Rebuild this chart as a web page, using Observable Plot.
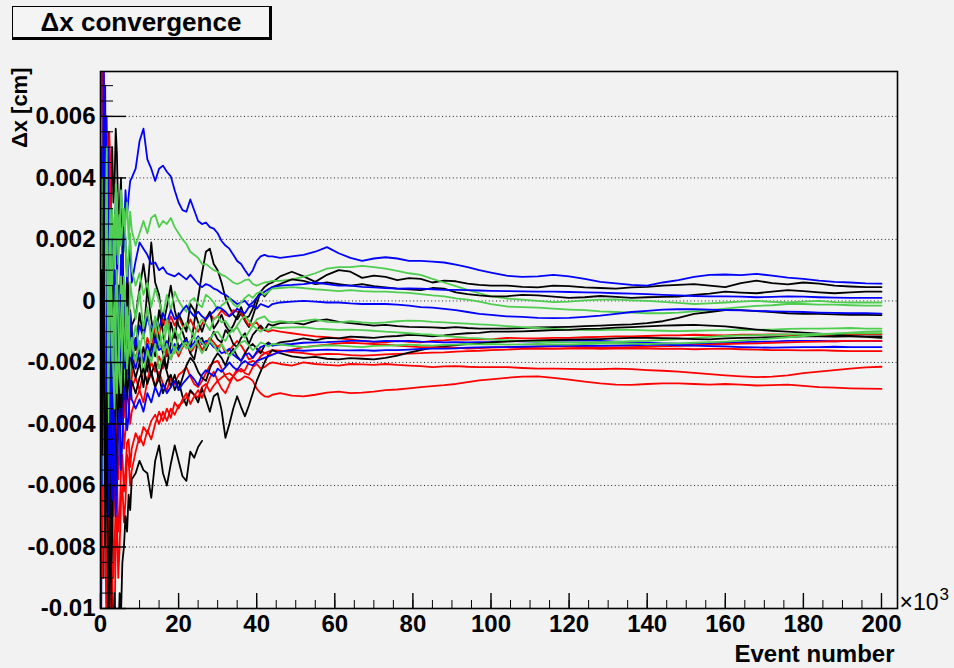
<!DOCTYPE html>
<html>
<head>
<meta charset="utf-8">
<script src="https://cdn.jsdelivr.net/npm/d3@7"></script>
<script src="https://cdn.jsdelivr.net/npm/@observablehq/plot@0.6"></script>
<style>
  html, body { margin: 0; padding: 0; background: #f2f2f2; }
  #wrap { position: relative; width: 954px; height: 668px; overflow: hidden; }
  #title {
    position: absolute; left: 12px; top: 6px; width: 256px; height: 30px;
    border: 1px solid #000; border-right-width: 3px; border-bottom-width: 3px;
    background: #f4f4f4; z-index: 2;
    font: bold 26px "Liberation Sans", Arial, Helvetica, sans-serif;
    line-height: 30px; text-align: center; color: #000;
  }
</style>
</head>
<body>
<div id="wrap"><div id="title">Δx convergence</div></div>
<script>
// Event counts (thousands) at which every running estimate is sampled
const events = [0.2, 0.35, 0.5, 0.65, 0.8, 1.0, 1.2, 1.4, 1.6, 1.8, 2, 2.25, 2.5, 2.75, 3,
  3.3, 3.6, 3.9, 4.2, 4.55, 4.9, 5.25, 5.6, 6.0, 6.4, 6.8, 7.2, 7.6, 8,
  9, 10, 11, 12, 13, 14, 15, 16, 17, 18, 19, 20,
  21, 22, 23, 24, 25, 26, 27, 28, 29, 30, 31, 32, 33, 34, 35, 36, 37, 38, 39, 40, 41, 42, 43, 44,
  46, 49, 52, 55, 58, 61, 64, 67, 70, 73, 76, 79, 82, 85, 88, 91, 94, 97, 100,
  104, 108, 112, 116, 120, 124, 128, 132, 136, 140, 144, 148, 152, 156, 160,
  164, 168, 172, 176, 180, 184, 188, 192, 196, 200];

// Δx running estimates, in units of 1e-3 cm
const black1 = [-9.0, -2.0, 3.5, -1.5, -6.0, -3.0, 2.0, -1.0, -4.0, 1.5, 5.5, 3.0, 2.0, 4.2, 5.0,
  3.2, 3.8, 5.6, 4.8, 2.6, 3.0, 4.0, 1.5, 0.2, -1.0, 1.0, 0.2, -1.6, -0.8,
  -0.5, 0.4, 1.2, 0.3, 1.9, 0.6, 0.2, -0.8, -0.2, 0.5, -0.3, -0.8,
  -1.0, -1.4, -1.6, -0.7, 0.1, 0.9, 1.6, 1.7, 1.2, 1.0, 0.6, 0.1, -0.2, -0.45, -0.6, -0.4, -0.65, -0.85, -0.5, -0.1, 0.3, 0.45, 0.55, 0.6,
  0.8, 0.95, 0.8, 0.62, 0.85, 1.0, 0.95, 0.75, 0.82, 0.78, 0.68, 0.74, 0.72, 0.6, 0.66, 0.64, 0.56, 0.52, 0.5,
  0.5, 0.46, 0.44, 0.5, 0.48, 0.44, 0.42, 0.4, 0.44, 0.46, 0.5, 0.52, 0.55, 0.5, 0.45,
  0.58, 0.66, 0.58, 0.54, 0.6, 0.56, 0.5, 0.47, 0.45, 0.45];
const red1 = [10.0, 7.0, 4.0, 9.0, 8.0, 2.5, -1.0, 3.0, 6.0, 4.5, 2.0, 5.5, 4.5, 1.0, -2.0,
  -0.5, 1.0, -1.5, -3.0, 0.5, -1.0, -3.2, -2.0, -0.8, -3.0, -2.2, -1.5, -3.0, -2.5,
  -1.8, -1.5, -2.0, -1.2, -1.6, -0.8, -1.1, -0.6, -0.9, -0.5, -0.8, -0.5,
  -0.8, -0.9, -0.6, -0.85, -1.0, -0.75, -0.55, -0.4, -0.6, -0.5, -0.3, -0.45, -0.5, -0.3, -0.35, -0.4, -0.6, -0.8, -0.75, -0.7, -0.9, -0.95, -1.0, -0.95,
  -1.0, -1.05, -1.1, -1.15, -1.18, -1.22, -1.25, -1.3, -1.33, -1.35, -1.3, -1.33, -1.35, -1.3, -1.28, -1.25, -1.26, -1.24, -1.25,
  -1.2, -1.22, -1.22, -1.2, -1.2, -1.18, -1.17, -1.15, -1.15, -1.14, -1.12, -1.12, -1.1, -1.11, -1.12,
  -1.1, -1.1, -1.09, -1.1, -1.12, -1.1, -1.1, -1.09, -1.08, -1.08];
const blue1 = [7.5, 9.0, 3.0, 0.5, -2.5, 1.0, 4.0, 6.0, 0.5, -1.5, -3.5, -0.5, 1.5, 3.0, -1.0,
  0.8, 2.5, 3.2, 0.5, 2.0, 1.8, 3.4, 2.6, 2.0, 3.6, 2.8, 3.4, 3.9, 4.0,
  4.3, 5.2, 5.6, 4.6, 4.3, 3.9, 4.3, 4.4, 4.2, 4.05, 3.6, 3.2,
  2.95, 2.9, 3.3, 2.95, 2.6, 2.5, 2.55, 2.4, 2.35, 2.2, 1.95, 1.8, 1.7, 1.5, 1.3, 1.2, 1.0, 0.82, 1.0, 1.3, 1.45, 1.5, 1.45, 1.45,
  1.4, 1.45, 1.5, 1.6, 1.75, 1.55, 1.4, 1.3, 1.38, 1.42, 1.38, 1.3, 1.3, 1.28, 1.25, 1.18, 1.1, 1.0, 0.92,
  0.82, 0.78, 0.8, 0.85, 0.8, 0.72, 0.62, 0.57, 0.52, 0.5, 0.6, 0.68, 0.78, 0.85, 0.86,
  0.84, 0.88, 0.82, 0.76, 0.72, 0.66, 0.62, 0.6, 0.57, 0.56];
const green1 = [-4.0, 2.0, 6.0, 3.5, 1.0, 4.0, -3.0, 0.5, 2.5, -0.5, 4.5, 1.5, 0.0, 1.8, 3.0,
  0.8, 1.5, 3.8, 3.5, 1.2, 2.2, 3.6, 3.0, 1.6, 2.6, 3.2, 2.0, 2.9, 2.3,
  1.8, 2.2, 2.6, 2.2, 2.7, 2.8, 2.4, 2.6, 2.5, 2.7, 2.4, 2.2,
  2.0, 1.85, 1.6, 1.5, 1.4, 1.2, 1.2, 1.1, 1.0, 0.95, 0.85, 0.8, 0.7, 0.6, 0.55, 0.6, 0.68, 0.7, 0.55, 0.5, 0.55, 0.6, 0.62, 0.65,
  0.65, 0.7, 0.78, 0.9, 1.05, 1.1, 1.1, 1.14, 1.1, 1.05, 0.98, 0.9, 0.85, 0.72, 0.6, 0.48, 0.36, 0.25, 0.15,
  0.08, 0.04, 0.0, -0.04, -0.02, 0.02, 0.04, 0.05, 0.02, 0.0, -0.03, -0.06, -0.1, -0.08, -0.05,
  -0.02, 0.0, -0.03, -0.05, -0.02, 0.0, -0.04, -0.05, -0.05, -0.05];
const black2 = [4.0, -2.0, -7.0, -3.0, 2.5, 0.0, -3.5, -6.0, 1.0, -2.5, -5.0, -2.0, -1.0, -4.5, -3.5,
  -1.0, 0.5, -1.5, -2.5, 0.5, -1.0, 0.0, 1.5, -1.5, -0.5, 0.5, -2.0, -0.3, -1.0,
  -1.6, -0.4, -1.2, 0.4, -0.6, -1.4, -0.3, -1.0, -1.8, -0.7, -1.2, -0.4,
  -0.7, -1.0, -0.1, -0.3, -0.7, -1.0, -0.6, -0.35, -0.9, -0.7, -0.45, -0.8, -1.0, -0.8, -0.5, -0.2, -0.55, -0.5, -0.25, 0.1, 0.3, 0.15, 0.3, 0.45,
  0.55, 0.7, 0.65, 0.55, 0.6, 0.55, 0.5, 0.55, 0.48, 0.44, 0.4, 0.38, 0.35, 0.42, 0.4, 0.28, 0.22, 0.18, 0.15,
  0.15, 0.2, 0.18, 0.14, 0.1, 0.12, 0.16, 0.13, 0.1, 0.12, 0.13, 0.14, 0.2, 0.24, 0.3,
  0.27, 0.25, 0.3, 0.35, 0.32, 0.28, 0.25, 0.28, 0.3, 0.3];
const red2 = [2.0, 6.0, 9.0, 2.0, -4.0, 1.0, 5.0, 2.0, -1.0, 1.5, 3.5, 0.0, -2.5, -0.5, 1.0,
  -2.0, -4.0, -1.0, -2.0, -4.5, -3.5, -1.5, -2.5, -3.8, -3.0, -1.8, -2.0, -3.2, -2.8,
  -2.5, -2.9, -2.3, -2.6, -2.0, -2.3, -1.8, -2.2, -1.6, -1.9, -1.5, -1.8,
  -1.5, -1.35, -1.7, -1.5, -1.3, -1.6, -1.4, -1.2, -1.35, -1.5, -1.4, -1.7, -1.6, -1.45, -1.3, -1.45, -1.65, -1.9, -1.85, -1.7, -1.6, -1.7, -1.65, -1.6,
  -1.62, -1.66, -1.7, -1.75, -1.72, -1.73, -1.76, -1.78, -1.76, -1.74, -1.72, -1.71, -1.7, -1.68, -1.67, -1.65, -1.63, -1.62, -1.6,
  -1.58, -1.56, -1.55, -1.56, -1.55, -1.54, -1.56, -1.55, -1.54, -1.55, -1.56, -1.55, -1.57, -1.56, -1.55,
  -1.57, -1.58, -1.6, -1.6, -1.61, -1.6, -1.62, -1.63, -1.63, -1.63];
const blue2 = [8.0, 3.0, -2.0, 1.0, 5.0, 0.0, -5.0, -1.0, 3.0, 4.5, 1.0, -1.5, -3.0, -0.5, 2.0,
  0.5, -1.5, -0.2, 1.0, -1.2, -0.5, 1.5, 0.8, 2.4, 2.0, 0.6, 1.2, 1.8, 0.6,
  1.3, 1.9, 1.7, 1.5, 1.2, 1.25, 1.0, 1.1, 0.9, 0.85, 0.8, 0.9,
  0.8, 0.7, 0.85, 0.7, 0.55, 0.45, 0.55, 0.5, 0.4, 0.35, 0.25, 0.2, 0.1, 0.0, -0.1, -0.05, 0.0, -0.15, -0.05, 0.1, 0.2, 0.3, 0.38, 0.45,
  0.5, 0.52, 0.55, 0.6, 0.55, 0.5, 0.5, 0.46, 0.44, 0.42, 0.4, 0.41, 0.4, 0.38, 0.36, 0.36, 0.35, 0.34, 0.33,
  0.32, 0.31, 0.3, 0.3, 0.29, 0.28, 0.27, 0.25, 0.24, 0.22, 0.2, 0.18, 0.16, 0.15, 0.15,
  0.14, 0.12, 0.13, 0.15, 0.14, 0.12, 0.11, 0.1, 0.1, 0.1];
const green2 = [-8.0, -3.0, 2.0, -1.0, -5.0, 0.5, 4.5, 1.0, -2.0, -3.5, 1.0, 2.5, -3.0, -1.0, 0.0,
  2.0, 2.8, 1.5, 3.2, 2.2, 2.8, 1.8, 2.5, 3.0, 2.0, 0.8, 1.5, 2.2, 1.0,
  0.5, 0.9, 0.2, 0.6, -0.2, 0.4, 0.0, -0.5, 0.2, -0.3, 0.3, 0.0,
  -0.2, -0.35, 0.0, 0.1, -0.1, -0.2, 0.2, 0.1, -0.05, -0.3, -0.15, -0.05, 0.1, -0.1, -0.2, -0.05, 0.1, 0.2, 0.1, 0.25, 0.3, 0.2, 0.3, 0.4,
  0.42, 0.45, 0.42, 0.38, 0.35, 0.32, 0.35, 0.32, 0.3, 0.3, 0.28, 0.26, 0.22, 0.18, 0.15, 0.08, 0.04, -0.02, -0.1,
  -0.18, -0.2, -0.22, -0.25, -0.28, -0.3, -0.34, -0.36, -0.38, -0.4, -0.4, -0.38, -0.34, -0.3, -0.25,
  -0.2, -0.16, -0.14, -0.1, -0.1, -0.12, -0.12, -0.14, -0.15, -0.15];
const black3 = [9.0, 4.0, -3.0, 2.0, 6.0, 1.5, -2.0, -5.0, -6.5, -2.0, 1.0, -2.0, -4.5, -1.5, 0.5,
  -1.5, -3.0, -4.0, -1.0, -2.2, -3.5, -2.0, -1.5, -3.0, -2.5, -1.5, -1.0, -2.6, -2.0,
  -1.2, -2.0, -1.5, -2.3, -1.4, -1.8, -1.1, -1.7, -2.2, -1.4, -1.0, -1.5,
  -1.4, -1.2, -1.7, -1.9, -1.3, -1.2, -1.6, -1.3, -1.0, -1.25, -1.35, -0.95, -1.1, -1.4, -1.5, -1.2, -1.05, -1.4, -1.1, -0.95, -0.8, -0.95, -0.75, -0.8,
  -0.72, -0.7, -0.76, -0.65, -0.6, -0.68, -0.72, -0.76, -0.8, -0.78, -0.82, -0.84, -0.85, -0.86, -0.88, -0.85, -0.88, -0.9, -0.9,
  -0.9, -0.88, -0.86, -0.85, -0.84, -0.82, -0.8, -0.78, -0.76, -0.72, -0.66, -0.55, -0.42, -0.36, -0.3,
  -0.3, -0.33, -0.36, -0.4, -0.42, -0.42, -0.44, -0.45, -0.45, -0.46];
const red3 = [-5.0, 1.0, 7.0, 4.0, 0.0, -3.0, -6.0, -1.0, 2.0, -3.5, -8.0, -5.5, -2.0, -4.0, -5.0,
  -7.0, -6.5, -4.5, -4.0, -5.8, -5.0, -3.0, -3.5, -4.8, -4.2, -3.0, -3.3, -4.0, -3.6,
  -3.2, -2.9, -3.3, -2.6, -2.4, -2.8, -2.3, -2.7, -2.9, -2.5, -2.7, -2.4,
  -2.3, -2.15, -2.45, -2.7, -2.8, -2.6, -2.35, -2.1, -2.0, -1.95, -2.2, -2.45, -2.6, -2.45, -2.3, -2.2, -2.35, -2.4, -2.15, -2.05, -2.2, -2.15, -2.05, -2.0,
  -2.05, -2.1, -2.0, -2.05, -2.08, -2.1, -2.05, -2.06, -2.08, -2.05, -2.08, -2.1, -2.12, -2.15, -2.13, -2.12, -2.14, -2.15, -2.15,
  -2.15, -2.18, -2.2, -2.2, -2.21, -2.22, -2.22, -2.2, -2.22, -2.25, -2.27, -2.3, -2.34, -2.38, -2.42,
  -2.45, -2.48, -2.46, -2.42, -2.35, -2.3, -2.25, -2.2, -2.16, -2.14];
const blue3 = [-6.0, -1.0, 5.0, 1.5, -2.0, 3.0, 7.0, 1.0, -4.0, -0.5, 2.5, 0.0, -1.0, -2.5, -4.0,
  -1.0, 1.0, -0.5, -2.0, -0.5, 0.5, -2.5, -1.5, 0.2, -0.5, -1.8, -2.0, -0.4, -1.0,
  -1.5, -0.8, -1.2, -0.5, -1.0, -0.6, -0.9, -0.4, -0.7, -0.3, -0.6, -0.5,
  -0.3, -0.15, -0.35, -0.5, -0.35, -0.5, -0.6, -0.45, -0.35, -0.2, -0.25, -0.35, -0.5, -0.4, -0.25, -0.35, -0.4, -0.2, -0.15, -0.25, -0.1, -0.15, -0.2, -0.1,
  -0.05, -0.02, 0.0, -0.02, -0.05, -0.05, -0.08, -0.1, -0.1, -0.1, -0.12, -0.15, -0.2, -0.22, -0.26, -0.3, -0.36, -0.42, -0.45,
  -0.5, -0.52, -0.55, -0.56, -0.55, -0.52, -0.48, -0.42, -0.36, -0.32, -0.28, -0.27, -0.27, -0.28, -0.3,
  -0.31, -0.32, -0.34, -0.35, -0.36, -0.38, -0.39, -0.4, -0.4, -0.41];
const green3 = [3.0, -3.0, -9.0, -4.0, 1.0, -1.0, -4.0, 0.5, 3.5, 1.0, -2.5, -0.5, 1.5, -1.0, -3.0,
  -2.0, -1.0, 0.5, -2.5, -3.2, -0.5, 0.8, -1.8, -2.8, -1.0, -0.2, -2.2, -2.6, -1.5,
  -0.8, -1.6, -1.0, -1.9, -1.2, -0.7, -1.5, -1.1, -0.6, -1.3, -0.9, -1.2,
  -0.9, -0.7, -0.95, -1.15, -0.8, -0.6, -0.75, -0.95, -0.6, -0.5, -0.7, -0.65, -0.85, -1.0, -0.8, -0.6, -0.5, -0.65, -0.8, -0.6, -0.55, -0.5, -0.65, -0.7,
  -0.66, -0.7, -0.65, -0.6, -0.68, -0.7, -0.66, -0.7, -0.72, -0.7, -0.66, -0.64, -0.65, -0.68, -0.7, -0.72, -0.74, -0.76, -0.78,
  -0.82, -0.85, -0.88, -0.91, -0.93, -0.95, -0.95, -0.93, -0.94, -0.96, -0.97, -0.98, -0.97, -0.96, -0.95,
  -0.95, -0.94, -0.93, -0.91, -0.9, -0.9, -0.89, -0.88, -0.9, -0.9];
const black4 = [-3.0, 3.0, 8.0, 0.0, -9.0, -4.0, 3.0, -1.0, -5.0, -2.5, 0.0, -3.5, -2.0, -4.0, -6.0,
  -4.5, -3.5, -6.5, -5.5, -3.0, -2.0, -4.0, -3.0, -1.2, -1.5, -3.2, -2.5, -1.4, -2.0,
  -2.5, -2.0, -2.8, -1.8, -2.4, -2.0, -2.6, -1.9, -2.3, -2.8, -2.4, -2.9,
  -2.5, -2.1, -1.85, -2.0, -2.3, -2.5, -2.6, -2.2, -1.9, -1.7, -1.85, -2.1, -1.75, -1.55, -1.8, -1.95, -1.7, -1.5, -1.4, -1.55, -1.7, -1.45, -1.35, -1.45,
  -1.35, -1.3, -1.22, -1.28, -1.2, -1.22, -1.16, -1.18, -1.2, -1.16, -1.14, -1.1, -1.12, -1.15, -1.12, -1.08, -1.05, -1.04, -1.0,
  -1.0, -0.99, -0.97, -0.95, -0.94, -0.91, -0.9, -0.87, -0.85, -0.83, -0.8, -0.79, -0.78, -0.8, -0.83,
  -0.88, -0.93, -0.97, -1.0, -1.03, -1.06, -1.1, -1.14, -1.17, -1.2];
const red4 = [9.5, 5.0, 2.0, 8.0, 6.0, 1.0, -3.0, -1.0, 1.0, -2.0, -5.0, -8.0, -9.5, -7.0, -6.0,
  -9.0, -8.0, -6.5, -5.5, -7.5, -7.0, -5.5, -5.0, -6.2, -5.5, -4.6, -4.5, -5.4, -4.8,
  -4.3, -4.6, -4.1, -4.3, -3.9, -3.7, -4.0, -3.6, -3.9, -3.5, -3.7, -3.4,
  -3.3, -3.15, -2.95, -3.05, -3.15, -2.8, -2.7, -2.95, -2.75, -2.6, -2.5, -2.4, -2.35, -2.45, -2.6, -2.55, -2.45, -2.5, -2.6, -2.85, -3.0, -3.1, -3.12, -3.05,
  -3.0, -3.08, -3.1, -3.05, -2.98, -2.95, -3.0, -2.98, -2.95, -2.9, -2.88, -2.84, -2.8, -2.77, -2.74, -2.7, -2.64, -2.58, -2.55,
  -2.5, -2.46, -2.45, -2.5, -2.56, -2.62, -2.68, -2.72, -2.73, -2.7, -2.68, -2.68, -2.7, -2.72, -2.7,
  -2.72, -2.75, -2.74, -2.72, -2.76, -2.8, -2.82, -2.84, -2.85, -2.86];
const blue4 = [-10.0, -4.0, 1.0, -2.0, -7.0, -1.0, 3.0, 0.0, -3.0, 1.5, 5.0, -1.0, -5.5, -3.0, -1.0,
  -4.0, -3.0, -1.0, 0.5, -1.5, -2.0, 0.2, -0.5, -2.2, -1.5, -0.8, -2.5, -1.2, -1.8,
  -2.2, -1.6, -2.0, -1.4, -1.8, -1.2, -1.6, -1.5, -1.3, -1.7, -1.4, -1.6,
  -1.35, -1.25, -1.5, -1.35, -1.15, -1.4, -1.3, -1.35, -1.5, -1.55, -1.7, -1.65, -1.55, -1.75, -1.85, -1.95, -1.75, -1.7, -1.85, -1.65, -1.5, -1.45, -1.4, -1.45,
  -1.42, -1.4, -1.36, -1.35, -1.34, -1.32, -1.3, -1.3, -1.32, -1.3, -1.31, -1.3, -1.32, -1.33, -1.35, -1.34, -1.35, -1.34, -1.33,
  -1.3, -1.31, -1.32, -1.3, -1.29, -1.28, -1.3, -1.32, -1.34, -1.36, -1.38, -1.39, -1.4, -1.39, -1.36,
  -1.34, -1.33, -1.32, -1.3, -1.3, -1.3, -1.31, -1.3, -1.3, -1.3];
const green4 = [6.0, 2.0, -3.0, -6.0, -8.0, -3.0, 1.5, -2.0, -6.0, -4.0, -1.0, 1.5, 3.0, 0.5, -2.0,
  -0.5, 0.0, -1.5, -3.0, -2.0, -1.5, -0.5, 0.5, -1.0, -2.0, -1.2, -0.5, -1.8, -1.2,
  -2.0, -1.3, -2.4, -1.6, -2.0, -1.4, -2.2, -1.8, -1.4, -1.9, -1.5, -1.7,
  -1.45, -1.35, -1.6, -1.45, -1.2, -1.35, -1.5, -1.25, -1.05, -1.0, -1.2, -1.3, -1.05, -0.95, -0.85, -1.1, -1.2, -1.0, -0.8, -0.9, -1.0, -0.9, -0.95, -0.85,
  -0.88, -0.86, -0.85, -0.9, -0.92, -0.94, -0.93, -0.95, -0.97, -1.0, -1.02, -1.05, -1.08, -1.1, -1.14, -1.17, -1.2, -1.22, -1.25,
  -1.28, -1.3, -1.32, -1.34, -1.35, -1.35, -1.34, -1.33, -1.31, -1.3, -1.27, -1.24, -1.2, -1.17, -1.14,
  -1.12, -1.11, -1.1, -1.09, -1.08, -1.07, -1.06, -1.05, -1.05, -1.05];
const black5 = [-7.0, -3.0, 0.0, -2.0, -4.5, -6.0, -8.0, -4.0, -2.0, -6.0, -10.0, -8.0, -5.0, -9.0, -7.5,
  -5.0, -3.5, -6.0, -5.0, -3.5, -3.0, -4.0, -2.0, -3.2, -2.8, -1.5, -1.8, -3.0, -2.6,
  -3.0, -2.5, -2.2, -2.7, -2.3, -2.8, -2.5, -3.0, -2.6, -2.4, -2.9, -2.6,
  -3.1, -3.4, -2.9, -3.05, -3.3, -2.85, -3.2, -3.6, -3.1, -3.0, -3.55, -4.45, -4.0, -3.5, -3.1, -3.45, -3.75, -3.4, -3.0, -2.6, -2.3, -2.0, -1.75, -1.6,
  -1.7, -1.8, -1.85, -1.82, -1.88, -1.9, -1.86, -1.88, -1.9, -1.85, -1.78, -1.68, -1.6, -1.52, -1.48, -1.44, -1.4, -1.38, -1.35,
  -1.32, -1.3, -1.28, -1.27, -1.26, -1.25, -1.24, -1.22, -1.2, -1.2, -1.21, -1.22, -1.24, -1.25, -1.22,
  -1.2, -1.19, -1.18, -1.17, -1.15, -1.15, -1.16, -1.15, -1.15, -1.15];
const red5 = [-4.0, -7.0, -9.0, -2.0, 3.0, -3.0, -7.0, -9.5, -11.0, -7.0, -4.0, -8.0, -12.0, -10.0, -8.5,
  -11.0, -10.5, -8.0, -7.0, -9.0, -8.0, -6.5, -6.0, -7.2, -6.5, -5.0, -5.2, -6.0, -5.5,
  -4.9, -4.4, -4.7, -4.2, -4.5, -4.0, -3.6, -3.9, -3.5, -3.8, -3.3, -3.5,
  -3.2, -3.0, -3.35, -3.1, -2.9, -3.15, -2.8, -2.5, -2.3, -2.6, -2.85, -3.0, -2.7, -2.45, -2.2, -2.3, -2.25, -2.0, -1.95, -2.0, -1.8, -1.7, -1.72, -1.75,
  -1.65, -1.58, -1.5, -1.46, -1.42, -1.38, -1.36, -1.38, -1.4, -1.42, -1.45, -1.48, -1.5, -1.5, -1.52, -1.52, -1.55, -1.53, -1.52,
  -1.5, -1.5, -1.49, -1.48, -1.49, -1.5, -1.52, -1.51, -1.5, -1.49, -1.48, -1.46, -1.44, -1.42, -1.4,
  -1.39, -1.38, -1.36, -1.35, -1.33, -1.32, -1.31, -1.3, -1.3, -1.3];
const blue5 = [5.0, 0.0, -6.0, 2.0, 9.0, 4.0, -2.0, -4.5, 2.0, -2.0, -7.0, -5.0, -3.0, -5.5, -6.5,
  -3.5, -4.5, -7.0, -6.0, -4.0, -3.5, -5.5, -4.5, -2.8, -3.0, -4.2, -3.8, -2.6, -3.2,
  -3.5, -3.2, -3.6, -3.0, -3.3, -2.8, -3.1, -2.7, -3.0, -2.8, -2.6, -2.9,
  -2.7, -2.55, -2.4, -2.55, -2.75, -2.4, -2.25, -2.35, -2.45, -2.2, -2.3, -2.15, -2.0, -2.15, -2.25, -2.05, -1.95, -2.05, -2.1, -1.95, -1.9, -1.85, -1.8, -1.75,
  -1.65, -1.6, -1.62, -1.6, -1.58, -1.6, -1.61, -1.6, -1.62, -1.6, -1.6, -1.58, -1.56, -1.55, -1.55, -1.54, -1.52, -1.51, -1.5,
  -1.5, -1.49, -1.48, -1.47, -1.46, -1.45, -1.46, -1.45, -1.44, -1.43, -1.42, -1.44, -1.45, -1.47, -1.48,
  -1.5, -1.51, -1.52, -1.51, -1.5, -1.5, -1.49, -1.5, -1.5, -1.5];
const green5 = [-2.0, 1.0, 4.0, -2.0, -6.0, -3.0, 0.0, 3.0, 5.0, 0.5, -4.0, -1.0, 2.0, 0.5, -1.0,
  -2.5, -3.5, -1.0, 1.0, -0.8, -2.5, -3.0, -1.0, 0.8, -0.2, -2.2, -1.5, 0.6, 0.2,
  -0.6, 0.3, -0.9, -0.2, -1.3, -0.5, -0.9, -1.6, -0.8, -1.2, -1.7, -1.1,
  -1.35, -1.55, -1.3, -1.15, -1.45, -1.7, -1.5, -1.3, -1.45, -1.65, -1.4, -1.6, -1.8, -1.65, -1.5, -1.35, -1.3, -1.45, -1.6, -1.5, -1.35, -1.4, -1.48, -1.4,
  -1.42, -1.46, -1.5, -1.47, -1.44, -1.45, -1.48, -1.5, -1.46, -1.45, -1.44, -1.42, -1.44, -1.45, -1.43, -1.42, -1.4, -1.41, -1.4,
  -1.42, -1.41, -1.4, -1.41, -1.42, -1.4, -1.39, -1.38, -1.39, -1.4, -1.39, -1.38, -1.36, -1.34, -1.32,
  -1.29, -1.26, -1.22, -1.18, -1.14, -1.1, -1.06, -1.03, -1.0, -0.98];
// this run stops after about 26k events
const black6 = [1.0, -2.0, -5.0, 0.0, 4.0, -2.0, -8.0, -5.5, -3.0, -7.0, -10.5, -9.0, -6.0, -9.5, -11.0,
  -12.0, -9.5, -11.5, -10.5, -11.0, -9.5, -10.2, -8.5, -8.0, -7.0, -7.5, -6.3, -6.8, -5.8,
  -5.6, -5.2, -5.5, -5.6, -6.4, -5.2, -4.7, -5.6, -6.0, -5.3, -4.7, -5.2,
  -5.7, -5.85, -4.9, -5.1, -4.75, -4.55];

const runs = [
  ["black1", "#000000", black1], ["red1", "#ff0000", red1], ["blue1", "#0000ff", blue1], ["green1", "#4fcd4f", green1],
  ["black2", "#000000", black2], ["red2", "#ff0000", red2], ["blue2", "#0000ff", blue2], ["green2", "#4fcd4f", green2],
  ["black3", "#000000", black3], ["red3", "#ff0000", red3], ["blue3", "#0000ff", blue3], ["green3", "#4fcd4f", green3],
  ["black4", "#000000", black4], ["red4", "#ff0000", red4], ["blue4", "#0000ff", blue4], ["green4", "#4fcd4f", green4],
  ["black5", "#000000", black5], ["red5", "#ff0000", red5], ["blue5", "#0000ff", blue5], ["green5", "#4fcd4f", green5],
  ["black6", "#000000", black6]
];

// Axis ticks and labels
const yMajor = [-0.01, -0.008, -0.006, -0.004, -0.002, 0, 0.002, 0.004, 0.006];
const yLabels = ["-0.01", "-0.008", "-0.006", "-0.004", "-0.002", "0", "0.002", "0.004", "0.006"];
const xMajor = [0, 20, 40, 60, 80, 100, 120, 140, 160, 180, 200];
const xLabels = ["0", "20", "40", "60", "80", "100", "120", "140", "160", "180", "200"];

runs.forEach(([name, , v]) => {
  if (name !== "black6" && v.length !== events.length) throw new Error(name + " has " + v.length + " values, expected " + events.length);
});

const rows = runs.flatMap(([name, color, v]) =>
  v.map((val, i) => ({run: name, color, event: events[i], dx: val / 1000}))
);

const W = 954, H = 668;
const mL = 100, mR = 57, mT = 71, mB = 60;
const innerW = W - mL - mR;
const innerH = H - mT - mB;
const yMinor = d3.range(-20, 15).map(i => i / 2000);
const xMinor = d3.range(0, 41).map(i => i * 5);
const font = '"Liberation Sans", Arial, Helvetica, sans-serif';

const chart = Plot.plot({
  width: W,
  height: H,
  marginLeft: mL, marginRight: mR, marginTop: mT, marginBottom: mB,
  style: {background: "#f2f2f2", fontFamily: font, color: "#000"},
  x: {domain: [0, 204.1], axis: null},
  y: {domain: [-0.01, 0.00746], axis: null},
  color: {type: "identity"},
  marks: [
    Plot.ruleY(yMajor.slice(1), {stroke: "#222", strokeDasharray: "1,2.6", strokeWidth: 1}),
    Plot.line(rows, {x: "event", y: "dx", z: "run", stroke: "color", strokeWidth: 1.8, clip: true}),
    Plot.tickY(yMinor, {y: d => d, insetRight: innerW - 13, stroke: "#000", strokeWidth: 1}),
    Plot.tickY(yMajor, {y: d => d, insetRight: innerW - 26, stroke: "#000", strokeWidth: 1.4}),
    Plot.tickX(xMinor, {x: d => d, insetTop: innerH - 8, stroke: "#000", strokeWidth: 1}),
    Plot.tickX(xMajor, {x: d => d, insetTop: innerH - 15, stroke: "#000", strokeWidth: 1.4}),
    Plot.frame({stroke: "#000", strokeWidth: 1.6}),
    Plot.text(yMajor, {y: d => d, text: (d, i) => yLabels[i], frameAnchor: "left", textAnchor: "end",
      dx: -5, fontSize: 24, fontWeight: "bold"}),
    Plot.text(xMajor, {x: d => d, text: (d, i) => xLabels[i], frameAnchor: "bottom", lineAnchor: "top",
      dy: 6, fontSize: 24, fontWeight: "bold"}),
    Plot.text(["Event number"], {frameAnchor: "bottom-right", textAnchor: "end", lineAnchor: "top",
      dx: -3, dy: 36, fontSize: 24, fontWeight: "bold"}),
    Plot.text(["×10"], {frameAnchor: "bottom-right", textAnchor: "start", lineAnchor: "bottom",
      dx: 2, dy: 1, fontSize: 23}),
    Plot.text(["3"], {frameAnchor: "bottom-right", textAnchor: "start", lineAnchor: "bottom",
      dx: 42, dy: -9, fontSize: 17}),
    Plot.text(["Δx [cm]"], {frameAnchor: "top-left", rotate: -90, textAnchor: "end",
      dx: -89, dy: -4, fontSize: 22, fontWeight: "bold"})
  ]
});

document.getElementById("wrap").appendChild(chart);
</script>
</body>
</html>
